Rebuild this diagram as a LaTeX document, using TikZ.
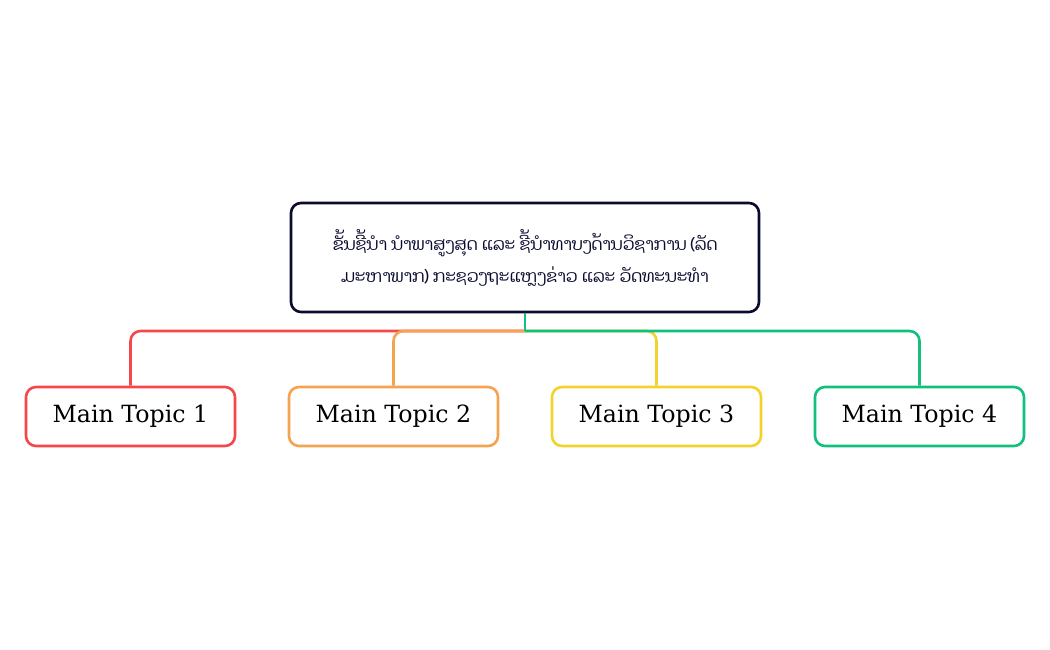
\documentclass[tikz,border=0pt]{standalone}
\usepackage{fontspec}
\setmainfont{DejaVu Serif}
\newfontfamily\laofont[Script=Lao]{Dhyana}
\definecolor{navy}{HTML}{0B0B30}
\definecolor{cred}{HTML}{F5484A}
\definecolor{corange}{HTML}{F6A350}
\definecolor{cyellow}{HTML}{F2D22C}
\definecolor{cgreen}{HTML}{12BF7C}
\begin{document}
\begin{tikzpicture}[x=1pt,y=-1pt,
  rootbox/.style={draw=navy,line width=2.6pt,rounded corners=10pt,fill=white,minimum width=468pt,minimum height=109pt,inner sep=0pt,align=center,text=navy,font=\laofont\fontsize{17}{32}\selectfont},
  topicbox/.style={line width=2.6pt,rounded corners=10pt,fill=white,minimum width=209pt,minimum height=59pt,inner sep=0pt,font=\fontsize{23.7}{28}\selectfont},
  link/.style={line width=2.6pt,rounded corners=10pt},
  stem/.style={line width=2.6pt}]
\useasboundingbox (0,0) rectangle (1050,650);
\node[rootbox] (root) at (525,257.5) {ຂັ້ນຊີ້ນຳ ນຳພາສູງສຸດ ແລະ ຊີ້ນຳທາບງດ້ານວິຊາການ (ລັດ\\ມະຫາພາກ) ກະຊວງຖະແຫຼງຂ່າວ ແລະ ວັດທະນະທຳ};
\node[topicbox,draw=cred] (t1) at (130.5,416.5) {Main Topic 1};
\node[topicbox,draw=corange] (t2) at (393.5,416.5) {Main Topic 2};
\node[topicbox,draw=cyellow] (t3) at (656.5,416.5) {Main Topic 3};
\node[topicbox,draw=cgreen] (t4) at (919.5,416.5) {Main Topic 4};
\coordinate (j) at (525,331);
\draw[link,draw=cred] (j) -| (t1.north);
\draw[link,draw=corange] (j) -| (t2.north);
\draw[link,draw=cyellow] (j) -| (t3.north);
\draw[link,draw=cgreen] (j) -| (t4.north);
\draw[stem,draw=cgreen] (root.south) -- (j);
\end{tikzpicture}
\end{document}
